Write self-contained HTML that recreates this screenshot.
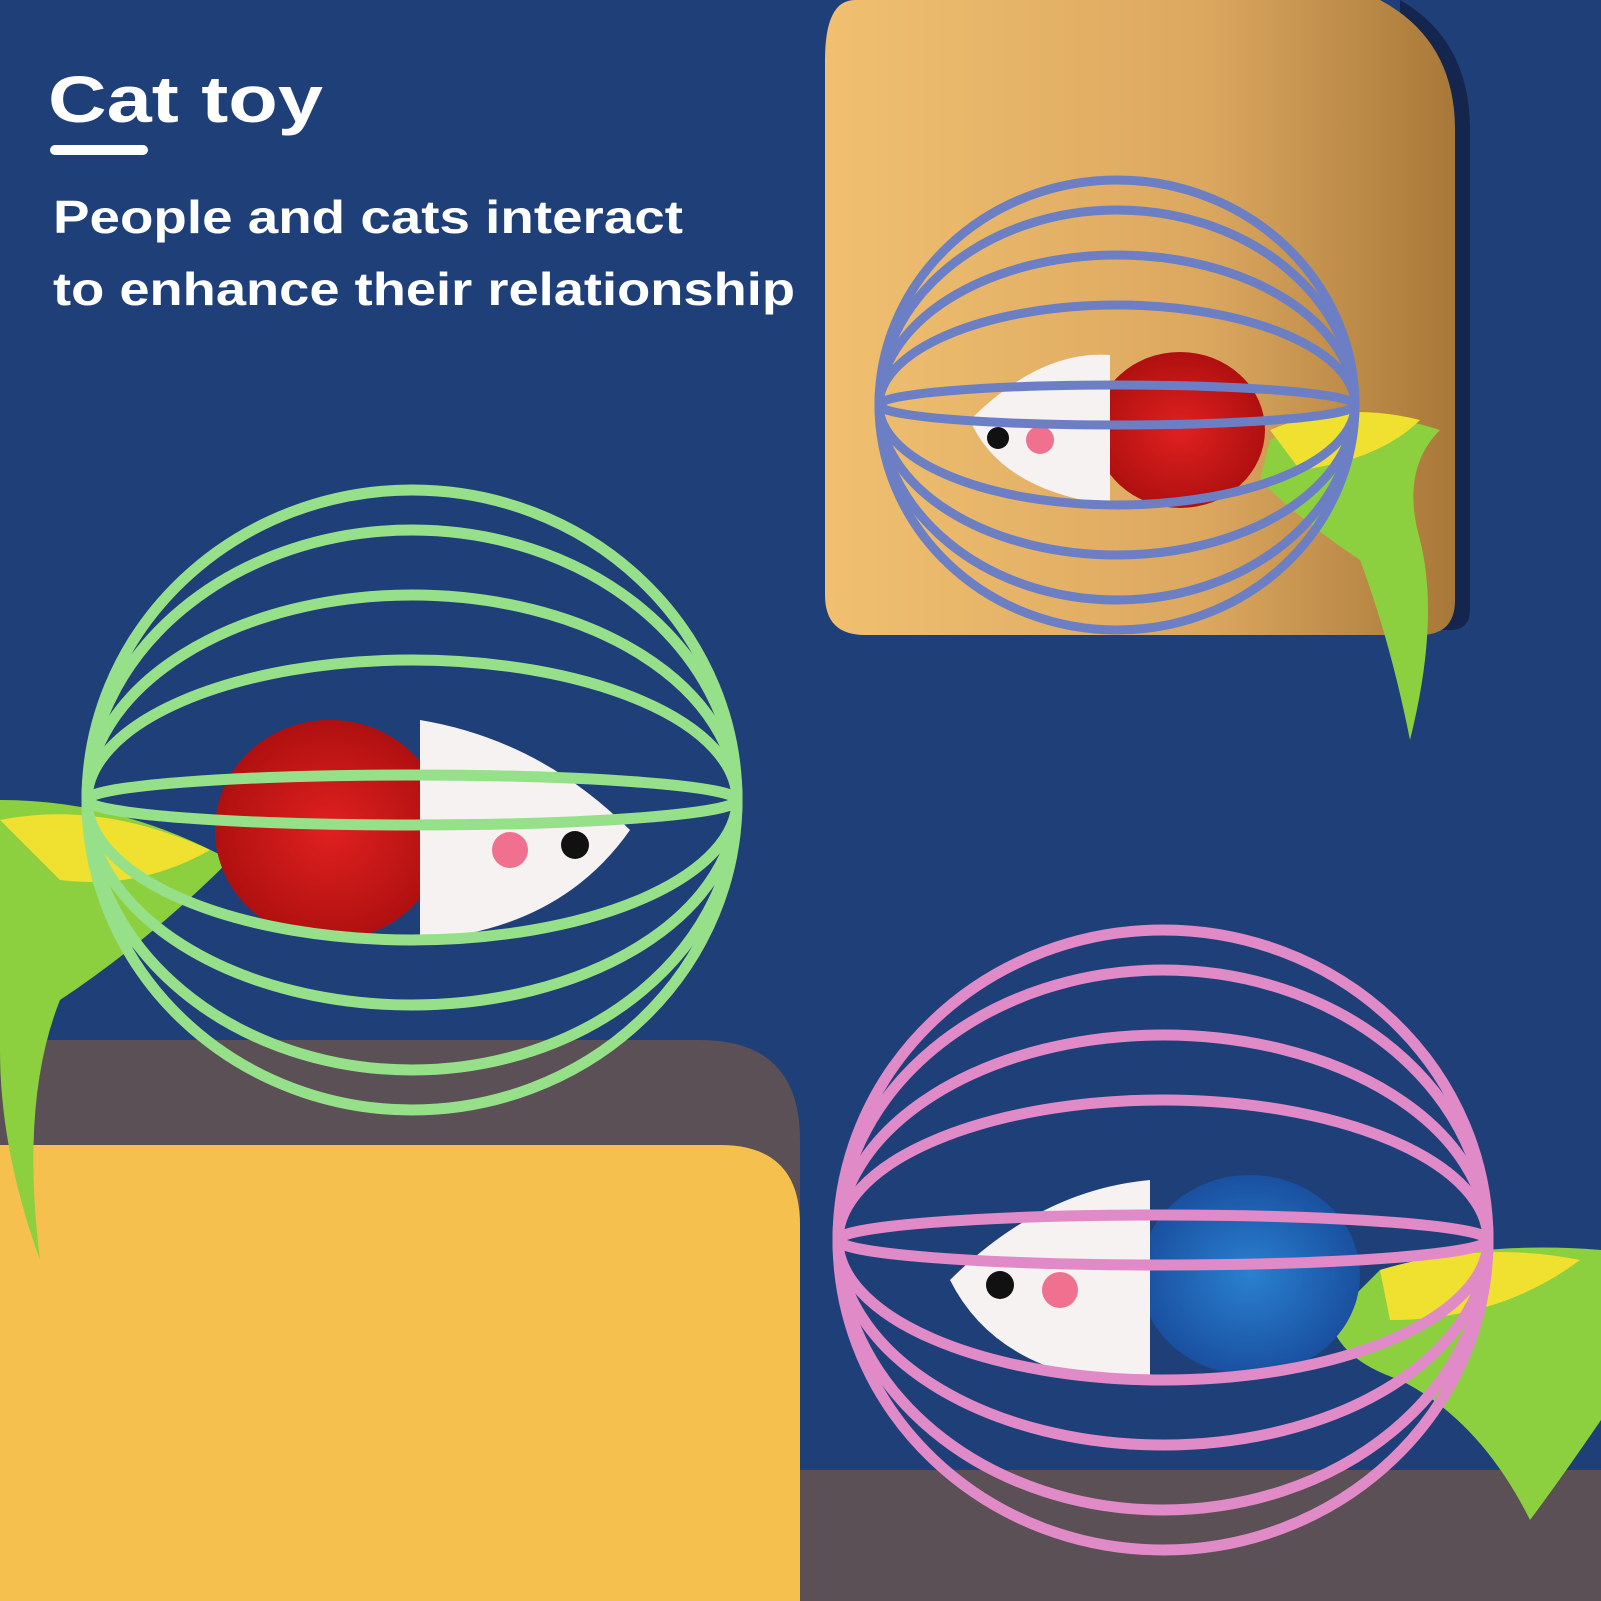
<!DOCTYPE html>
<html><head><meta charset="utf-8"><style>
html,body{margin:0;padding:0;background:#1f3f78;}
svg{display:block}
text{font-family:"Liberation Sans",sans-serif;font-weight:bold;fill:#fff}
</style></head><body>
<svg width="1601" height="1601" viewBox="0 0 1601 1601" xmlns="http://www.w3.org/2000/svg">
<defs>
<linearGradient id="tan" x1="0" y1="0" x2="1" y2="0">
<stop offset="0" stop-color="#f0c070"/><stop offset="0.6" stop-color="#dca860"/><stop offset="1" stop-color="#a87838"/>
</linearGradient>
<radialGradient id="red"><stop offset="0" stop-color="#e02020"/><stop offset="1" stop-color="#b01010"/></radialGradient>
<radialGradient id="blue"><stop offset="0" stop-color="#2a80d0"/><stop offset="1" stop-color="#1a50a0"/></radialGradient>
</defs>
<rect width="1601" height="1601" fill="#1f3f78"/>
<path d="M1400 0 Q1470 40 1470 130 L1470 610 Q1470 630 1450 630 L1400 630 Z" fill="#14264e"/>
<path d="M855 0 L1380 0 Q1455 40 1455 130 L1455 600 Q1455 635 1420 635 L865 635 Q825 635 825 595 L825 60 Q825 0 855 0 Z" fill="url(#tan)"/>
<path d="M0 1040 L700 1040 Q800 1040 800 1140 L800 1601 L0 1601 Z" fill="#5a5055"/>
<path d="M0 1145 L720 1145 Q800 1145 800 1225 L800 1601 L0 1601 Z" fill="#f6c04e"/>
<rect x="800" y="1470" width="801" height="131" fill="#5a5055"/>
<text x="48" y="122" font-size="66" textLength="275" lengthAdjust="spacingAndGlyphs">Cat toy</text>
<rect x="50" y="145" width="98" height="10" rx="5" fill="#fff"/>
<text x="53" y="233" font-size="46" textLength="630" lengthAdjust="spacingAndGlyphs">People and cats interact</text>
<text x="53" y="305" font-size="46" textLength="742" lengthAdjust="spacingAndGlyphs">to enhance their relationship</text>

<g>
<path d="M1270 440 Q1350 400 1440 430 Q1400 470 1420 540 Q1440 620 1410 740 Q1390 640 1360 560 Q1300 520 1260 480 Z" fill="#8cd040"/>
<path d="M1270 430 Q1340 400 1420 420 Q1380 460 1300 470 Z" fill="#f0e030"/>
<ellipse cx="1180" cy="430" rx="85" ry="78" fill="url(#red)"/>
<path d="M1110 355 Q1040 350 970 420 Q1000 490 1110 505 Z" fill="#f6f2f2"/>
<circle cx="1040" cy="440" r="14" fill="#f07090"/>
<circle cx="998" cy="438" r="11" fill="#111"/>
</g>
<g fill="none" stroke="#6c7fc4" stroke-width="9">
<ellipse cx="1117" cy="405" rx="238" ry="225"/>
<ellipse cx="1117" cy="405" rx="238" ry="195"/>
<ellipse cx="1117" cy="405" rx="238" ry="150"/>
<ellipse cx="1117" cy="405" rx="238" ry="100"/>
<ellipse cx="1117" cy="405" rx="238" ry="20"/>
</g>

<g>
<path d="M0 800 Q120 800 230 860 Q150 940 60 1000 Q20 1100 40 1260 Q0 1150 0 1050 Z" fill="#8cd040"/>
<path d="M0 820 Q100 800 210 850 Q140 890 60 880 Z" fill="#f0e030"/>
<ellipse cx="330" cy="830" rx="115" ry="110" fill="url(#red)"/>
<path d="M420 720 Q540 740 630 830 Q560 930 420 940 Z" fill="#f6f2f2"/>
<circle cx="510" cy="850" r="18" fill="#f07090"/>
<circle cx="575" cy="845" r="14" fill="#111"/>
</g>
<g fill="none" stroke="#96e08a" stroke-width="11">
<ellipse cx="412" cy="800" rx="325" ry="310"/>
<ellipse cx="412" cy="800" rx="325" ry="270"/>
<ellipse cx="412" cy="800" rx="325" ry="205"/>
<ellipse cx="412" cy="800" rx="325" ry="140"/>
<ellipse cx="412" cy="800" rx="325" ry="25"/>
</g>

<g>
<path d="M1380 1270 Q1480 1240 1601 1250 L1601 1420 Q1560 1480 1530 1520 Q1480 1420 1400 1380 Q1340 1360 1330 1320 Z" fill="#8cd040"/>
<path d="M1380 1270 Q1480 1240 1580 1260 Q1500 1320 1390 1320 Z" fill="#f0e030"/>
<ellipse cx="1250" cy="1275" rx="110" ry="100" fill="url(#blue)"/>
<path d="M1150 1180 Q1040 1190 950 1280 Q1000 1380 1150 1385 Z" fill="#f6f2f2"/>
<circle cx="1060" cy="1290" r="18" fill="#f07090"/>
<circle cx="1000" cy="1285" r="14" fill="#111"/>
</g>
<g fill="none" stroke="#e08ac8" stroke-width="11">
<ellipse cx="1163" cy="1240" rx="325" ry="310"/>
<ellipse cx="1163" cy="1240" rx="325" ry="270"/>
<ellipse cx="1163" cy="1240" rx="325" ry="205"/>
<ellipse cx="1163" cy="1240" rx="325" ry="140"/>
<ellipse cx="1163" cy="1240" rx="325" ry="25"/>
</g>
</svg>
</body></html>
